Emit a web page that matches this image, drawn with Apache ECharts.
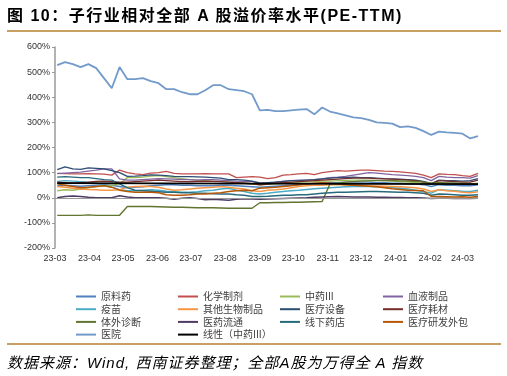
<!DOCTYPE html>
<html>
<head>
<meta charset="utf-8">
<script src="https://cdn.jsdelivr.net/npm/echarts@6/dist/echarts.min.js"></script>
<style>
  html, body { margin: 0; padding: 0; background: #fff; }
  #wrap { position: relative; width: 507px; height: 376px; }
  #main { width: 507px; height: 376px; }
  .txt { position: absolute; left: 7px; white-space: nowrap; color: #000;
         font-family: 'Liberation Sans', 'Noto Sans CJK SC', sans-serif; }
  #ttl { top: 2px; font-size: 16px; font-weight: bold; letter-spacing: 1.5px; }
  #src { top: 351px; font-size: 15px; font-style: italic; letter-spacing: 1px; }
</style>
</head>
<body>
<div id="wrap">
  <div id="main"></div>
  <div class="txt" id="ttl">图 10：子行业相对全部 A 股溢价率水平(PE-TTM)</div>
  <div class="txt" id="src">数据来源：Wind, 西南证券整理；全部A股为万得全 A 指数</div>
</div>
<script>
// 周度日期（每周五）
var dates = [
  "2023-03-03","2023-03-10","2023-03-17","2023-03-24","2023-03-31",
  "2023-04-07","2023-04-14","2023-04-21","2023-04-28",
  "2023-05-05","2023-05-12","2023-05-19","2023-05-26",
  "2023-06-02","2023-06-09","2023-06-16","2023-06-23","2023-06-30",
  "2023-07-07","2023-07-14","2023-07-21","2023-07-28",
  "2023-08-04","2023-08-11","2023-08-18","2023-08-25",
  "2023-09-01","2023-09-08","2023-09-15","2023-09-22","2023-09-29",
  "2023-10-06","2023-10-13","2023-10-20","2023-10-27",
  "2023-11-03","2023-11-10","2023-11-17","2023-11-24",
  "2023-12-01","2023-12-08","2023-12-15","2023-12-22","2023-12-29",
  "2024-01-05","2024-01-12","2024-01-19","2024-01-26",
  "2024-02-02","2024-02-09","2024-02-16","2024-02-23",
  "2024-03-01","2024-03-08","2024-03-15"
];

// 溢价率 %
var ylY = [48,50,48,46,48,50,52,50,45,40, 42,44,48,50,52,52,50,50,48,48, 48,50,50,48,46,44,42,44,46,48, 50,52,54,56,58,60,60,62,62,62, 62,60,60,58,58,56,55,52,45,52, 50,50,48,48,52];
var hxzj = [97,96,95,95,96,95,94,90,110,100, 95,92,98,100,105,97,95,95,95,96, 95,95,95,80,82,84,82,76,80,90, 92,95,97,92,100,104,108,106,108,110, 110,108,106,105,103,100,97,90,80,95, 93,92,88,85,97];
var zy3 = [28,32,30,35,40,45,48,50,55,80, 80,82,86,88,84,80,76,72,70,68, 66,65,62,60,58,55,52,54,56,58, 60,62,63,64,66,66,68,68,70,70, 70,69,68,66,64,62,60,58,55,60, 58,58,56,55,58];
var xyzp = [96,98,100,102,106,110,115,115,75,70, 70,72,74,76,75,74,72,72,70,72, 72,70,68,66,65,65,60,58,62,65, 68,70,70,72,75,80,82,85,90,95, 100,98,95,92,90,88,85,80,68,85, 82,80,80,78,88];
var ym = [65,68,66,64,62,58,50,42,32,28, 28,30,32,30,26,24,22,22,24,28, 30,35,38,30,25,18,15,18,22,25, 28,30,33,36,38,40,42,44,45,46, 45,44,42,40,38,35,30,25,18,32, 30,28,26,25,30];
var qtsw = [45,42,38,35,33,32,30,30,32,42, 45,46,45,42,35,30,32,35,38,40, 42,45,42,38,35,28,25,30,32,35, 40,45,48,50,50,52,52,52,50,50, 48,47,46,45,44,42,40,35,25,32, 28,26,22,20,24];
var ylsb = [112,123,115,113,119,117,115,108,100,85, 86,88,91,90,88,85,84,84,83,82, 80,78,72,72,70,66,57,60,62,65, 68,68,70,72,75,78,80,80,82,80, 80,78,76,75,74,72,70,65,56,70, 68,68,66,68,76];
var ylhc = [62,60,58,60,62,65,66,64,62,62, 64,66,68,70,68,66,64,64,65,66, 65,64,62,60,58,56,52,55,58,60, 62,64,66,68,70,72,74,76,78,78, 78,76,75,74,72,70,68,62,55,68, 66,64,62,62,70];
var twzd = [-70,-70,-70,-70,-68,-70,-70,-70,-70,-35, -35,-35,-35,-36,-37,-38,-38,-39,-40,-40, -40,-41,-42,-42,-42,-42,-20,-20,-19,-19, -18,-18,-17,-16,-15,55,58,62,64,66, 67,68,68,68,67,66,65,63,58,60, 59,58,57,56,56];
var yylt = [0,5,7,5,2,0,0,0,8,3, 0,0,0,0,-2,-6,-2,0,-3,-8, -6,-8,-10,-6,-4,-5,-6,-5,-4,-3, -2,-1,0,2,3,4,5,4,3,3, 3,2,2,1,1,0,0,-1,-3,-2, -2,-3,-3,-3,-2];
var xxyd = [82,84,82,80,80,76,72,70,55,40, 30,28,26,24,22,22,20,20,18,18, 16,15,15,12,10,5,5,6,8,10, 10,12,12,15,18,20,22,22,23,24, 25,25,24,23,22,22,20,18,10,15, 14,12,10,10,12];
var ylyf = [55,50,45,40,42,45,48,42,30,25, 22,22,22,20,12,10,10,12,15,15, 18,20,25,28,30,28,38,40,42,45, 48,52,55,58,60,58,55,52,50,48, 46,44,40,36,33,30,29,28,5,5, 4,3,4,2,5];
var yy = [528,540,532,520,532,516,476,436,520,472, 472,476,464,456,432,432,420,412,412,428, 448,448,432,428,424,412,348,350,345,345, 348,351,353,332,359,343,336,328,320,317, 310,300,298,295,281,284,278,265,250,263, 260,258,255,236,245];
// 线性（中药III）首尾值
var trendDates = ["2023-03-03", "2024-03-15"];
var trendVals = [58, 54];

var names = ["原料药","化学制剂","中药III","血液制品","疫苗","其他生物制品","医疗设备","医疗耗材","体外诊断","医药流通","线下药店","医疗研发外包","医院"];
var values = [ylY, hxzj, zy3, xyzp, ym, qtsw, ylsb, ylhc, twzd, yylt, xxyd, ylyf, yy];
var colors = ["#4F81BD","#C0504D","#9BBB59","#8064A2","#4BACC6","#F79646","#2C4D75","#772C2A","#5F7530","#4D3B62","#276A7C","#B65708","#729ACA"];
var yTicks = [-200, 600, 100];

var series = [];
for (var i = 0; i < names.length; i++) {
  series.push({
    name: names[i],
    type: "line",
    showSymbol: false,
    symbol: "none",
    lineStyle: { width: i == 12 ? 1.8 : 1.4, color: colors[i] },
    itemStyle: { color: colors[i] },
    data: dates.map(function (d, k) { return [d, values[i][k]]; })
  });
}
// 0% 处的横轴线
series[0].markLine = {
  silent: true, symbol: "none", label: { show: false },
  lineStyle: { color: "#9a9a9a", width: 1, type: "solid" },
  data: [{ yAxis: 0 }]
};
series.push({
  name: "线性（中药III）",
  type: "line",
  showSymbol: false,
  symbol: "none",
  lineStyle: { width: 1.8, color: "#000" },
  itemStyle: { color: "#000" },
  data: trendDates.map(function (d, k) { return [d, trendVals[k]]; })
});

var legendFont = { fontSize: 10, lineHeight: 11, color: "#404040", fontFamily: "'Noto Sans CJK SC'" };
function makeLegend(list, left) {
  return {
    data: list, left: left, top: 291, orient: "vertical",
    icon: "rect", itemWidth: 20, itemHeight: 2, itemGap: 1.7, padding: 0,
    textStyle: legendFont, selectedMode: false
  };
}

var chart = echarts.init(document.getElementById("main"));
chart.setOption({
  animation: false,
  color: colors,
  legend: [
    makeLegend(["原料药","疫苗","体外诊断","医院"], 76),
    makeLegend(["化学制剂","其他生物制品","医药流通","线性（中药III）"], 178),
    makeLegend(["中药III","医疗设备","线下药店"], 280),
    makeLegend(["血液制品","医疗耗材","医疗研发外包"], 383)
  ],
  grid: { left: 55, right: 29, top: 47, bottom: 128, containLabel: false },
  xAxis: {
    type: "time",
    min: "2023-03-01",
    max: "2024-03-15",
    minInterval: 30 * 24 * 3600 * 1000,
    maxInterval: 31 * 24 * 3600 * 1000,
    axisLine: { show: false },
    axisTick: { show: false },
    splitLine: { show: false },
    axisLabel: {
      margin: 6,
      fontSize: 9,
      color: "#333",
      fontFamily: "'Liberation Sans'",
      showMaxLabel: false,
      hideOverlap: false,
      formatter: function (v) {
        var d = new Date(v);
        var m = d.getMonth() + 1;
        return String(d.getFullYear()).slice(2) + "-" + (m < 10 ? "0" + m : m);
      }
    }
  },
  yAxis: {
    type: "value",
    min: yTicks[0], max: yTicks[1], interval: yTicks[2],
    axisLine: { show: true, lineStyle: { color: "#9a9a9a", width: 1.5 } },
    axisTick: { show: true, length: 3, lineStyle: { color: "#9a9a9a" } },
    splitLine: { show: false },
    axisLabel: {
      fontSize: 9, color: "#333", margin: 5, fontFamily: "'Liberation Sans'",
      formatter: function (v) { return v + "%"; }
    }
  },
  graphic: [
    { type: "rect", shape: { x: 7, y: 30, width: 494, height: 2 }, style: { fill: "#C9A063" } },
    { type: "rect", shape: { x: 7, y: 343, width: 494, height: 2 }, style: { fill: "#C9A063" } }
  ],
  series: series
});
</script>
</body>
</html>
